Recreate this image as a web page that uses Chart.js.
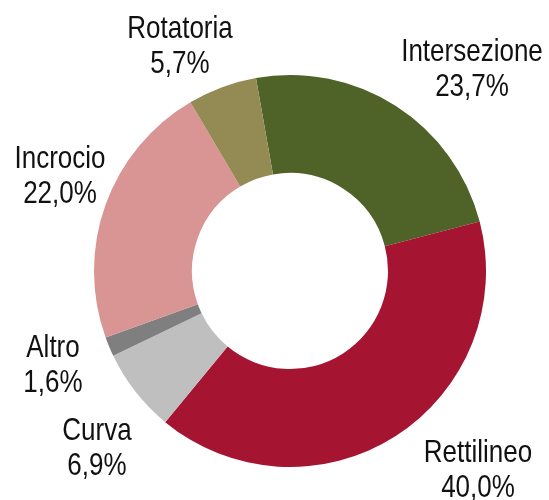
<!DOCTYPE html>
<html>
<head>
<meta charset="utf-8">
<script src="https://cdn.jsdelivr.net/npm/chart.js@4"></script>
<style>
  html, body { margin: 0; padding: 0; background: #ffffff; }
  #wrap { width: 549px; height: 500px; }
</style>
</head>
<body>
<div id="wrap"><canvas id="c" width="549" height="500"></canvas></div>
<script>
// ---- data ----
const categories = ["Intersezione", "Rettilineo", "Curva", "Altro", "Incrocio", "Rotatoria"];
const shares = [23.7, 40.0, 6.9, 1.6, 22.0, 5.7];
const sliceColors = ["#4F6228", "#A51431", "#BFBFBF", "#7F7F7F", "#D99594", "#948A54"];
// label layout: offset of first-line baseline from the donut centre (px)
const labelOffsets = [[182, -210], [188, 191], [-193, 169], [-237, 86], [-230, -103], [-110, -233]];

const fmt = v => v.toFixed(1).replace('.', ',') + '%';

const labelPlugin = {
  id: 'outerLabels',
  afterDraw(chart) {
    const ctx = chart.ctx;
    const meta = chart.getDatasetMeta(0);
    ctx.save();
    ctx.fillStyle = '#111111';
    ctx.font = "26px 'Liberation Sans', Arial, sans-serif";
    ctx.textAlign = 'center';
    ctx.textBaseline = 'alphabetic';
    meta.data.forEach((arc, i) => {
      const cx = arc.x + labelOffsets[i][0];
      const by = arc.y + labelOffsets[i][1];
      const lines = [categories[i], fmt(shares[i])];
      lines.forEach((t, k) => {
        ctx.save();
        ctx.translate(cx, by + k * 35);
        ctx.scale(1, 1.18);
        ctx.fillText(t, 0, 0);
        ctx.restore();
      });
    });
    ctx.restore();
  }
};

new Chart(document.getElementById('c'), {
  type: 'doughnut',
  data: {
    labels: categories,
    datasets: [{
      data: shares,
      backgroundColor: sliceColors,
      borderWidth: 0,
      hoverOffset: 0
    }]
  },
  options: {
    responsive: false,
    devicePixelRatio: 1,
    animation: false,
    rotation: -10,
    cutout: '50%',
    layout: { padding: { left: 94, right: 63, top: 75, bottom: 33 } },
    plugins: {
      legend: { display: false },
      tooltip: { enabled: false }
    }
  },
  plugins: [labelPlugin]
});
</script>
</body>
</html>
